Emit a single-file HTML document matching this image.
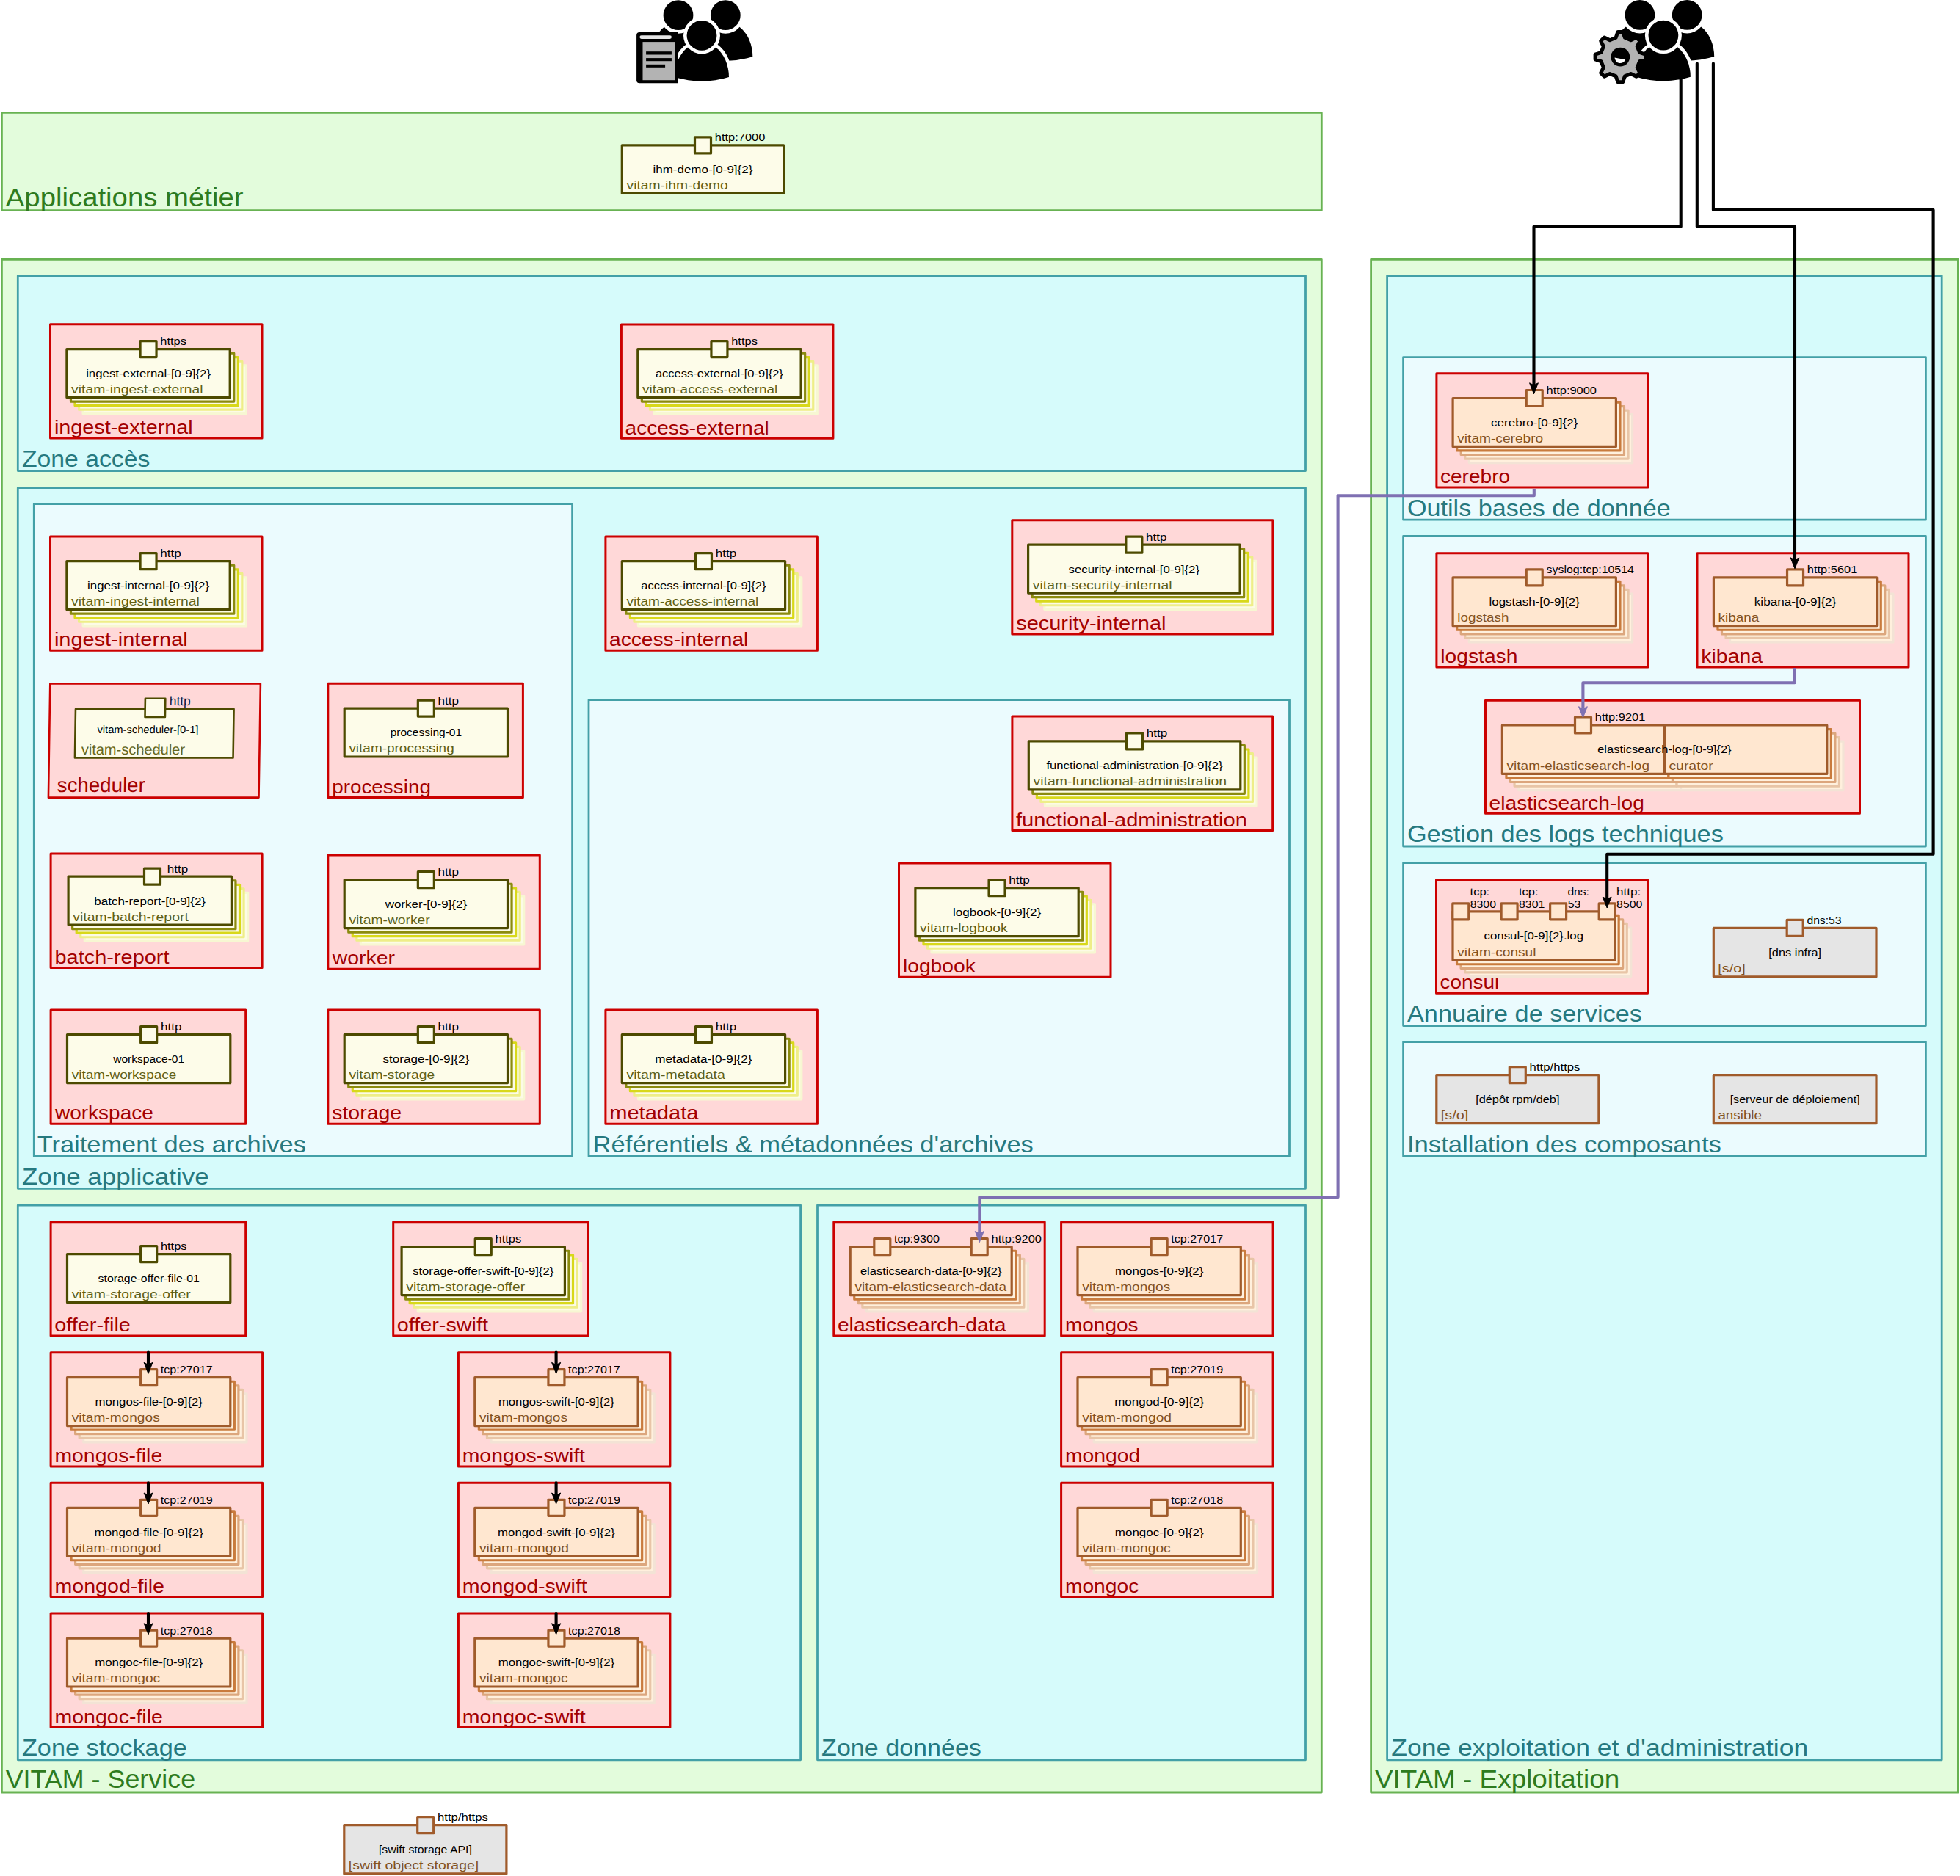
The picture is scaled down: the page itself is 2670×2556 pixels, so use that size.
<!DOCTYPE html>
<html><head><meta charset="utf-8"><title>VITAM</title><style>html,body{margin:0;padding:0;background:#fff;overflow:hidden;}svg{display:block;}text{font-family:"Liberation Sans",sans-serif;}</style></head><body>
<svg width="2670" height="2556" viewBox="0 0 2670 2556" font-family="Liberation Sans, sans-serif">
<rect x="0" y="0" width="2670" height="2556" fill="#ffffff"/>
<rect x="2.40" y="153.40" width="1797.90" height="133.20" fill="#e3fcdc" stroke="#68b252" stroke-width="2.78" stroke-linejoin="round" />
<rect x="2.40" y="353.30" width="1797.90" height="2088.70" fill="#e3fcdc" stroke="#68b252" stroke-width="2.78" stroke-linejoin="round" />
<rect x="1867.60" y="353.30" width="799.80" height="2088.70" fill="#e3fcdc" stroke="#68b252" stroke-width="2.78" stroke-linejoin="round" />
<rect x="24.30" y="375.50" width="1754.20" height="266.00" fill="#d6fbfb" stroke="#43a0a7" stroke-width="2.78" stroke-linejoin="round" />
<rect x="24.30" y="664.50" width="1754.20" height="954.80" fill="#d6fbfb" stroke="#43a0a7" stroke-width="2.78" stroke-linejoin="round" />
<rect x="46.30" y="686.50" width="733.30" height="889.00" fill="#ebfbfe" stroke="#43a0a7" stroke-width="2.78" stroke-linejoin="round" />
<rect x="802.00" y="953.60" width="954.50" height="621.90" fill="#ebfbfe" stroke="#43a0a7" stroke-width="2.78" stroke-linejoin="round" />
<rect x="24.30" y="1642.10" width="1066.30" height="755.70" fill="#d6fbfb" stroke="#43a0a7" stroke-width="2.78" stroke-linejoin="round" />
<rect x="1113.50" y="1642.10" width="665.00" height="755.70" fill="#d6fbfb" stroke="#43a0a7" stroke-width="2.78" stroke-linejoin="round" />
<rect x="1889.60" y="375.50" width="755.60" height="2022.30" fill="#d6fbfb" stroke="#43a0a7" stroke-width="2.78" stroke-linejoin="round" />
<rect x="1911.60" y="486.70" width="711.80" height="221.50" fill="#ebfbfe" stroke="#43a0a7" stroke-width="2.78" stroke-linejoin="round" />
<rect x="1911.60" y="730.50" width="711.80" height="422.50" fill="#ebfbfe" stroke="#43a0a7" stroke-width="2.78" stroke-linejoin="round" />
<rect x="1911.60" y="1175.50" width="711.80" height="222.00" fill="#ebfbfe" stroke="#43a0a7" stroke-width="2.78" stroke-linejoin="round" />
<rect x="1911.60" y="1419.50" width="711.80" height="156.00" fill="#ebfbfe" stroke="#43a0a7" stroke-width="2.78" stroke-linejoin="round" />
<text x="7.8" y="280.9" font-size="34.83" fill="#2e7b1e" text-anchor="start" textLength="323.7" lengthAdjust="spacingAndGlyphs">Applications métier</text>
<text x="7.7" y="2436.3" font-size="34.83" fill="#2e7b1e" text-anchor="start" textLength="258.4" lengthAdjust="spacingAndGlyphs">VITAM - Service</text>
<text x="1872.9" y="2436.3" font-size="34.83" fill="#2e7b1e" text-anchor="start" textLength="333.4" lengthAdjust="spacingAndGlyphs">VITAM - Exploitation</text>
<text x="29.9" y="635.8" font-size="31.92" fill="#26797f" text-anchor="start" textLength="174.5" lengthAdjust="spacingAndGlyphs">Zone accès</text>
<text x="29.9" y="1613.6" font-size="31.92" fill="#26797f" text-anchor="start" textLength="254.8" lengthAdjust="spacingAndGlyphs">Zone applicative</text>
<text x="50.7" y="1569.8" font-size="31.92" fill="#26797f" text-anchor="start" textLength="366.2" lengthAdjust="spacingAndGlyphs">Traitement des archives</text>
<text x="807.6" y="1569.8" font-size="31.92" fill="#26797f" text-anchor="start" textLength="600.3" lengthAdjust="spacingAndGlyphs">Référentiels &amp; métadonnées d&#39;archives</text>
<text x="29.9" y="2392.1" font-size="31.92" fill="#26797f" text-anchor="start" textLength="224.9" lengthAdjust="spacingAndGlyphs">Zone stockage</text>
<text x="1119.1" y="2392.1" font-size="31.92" fill="#26797f" text-anchor="start" textLength="217.8" lengthAdjust="spacingAndGlyphs">Zone données</text>
<text x="1895.2" y="2392.1" font-size="31.92" fill="#26797f" text-anchor="start" textLength="568.0" lengthAdjust="spacingAndGlyphs">Zone exploitation et d&#39;administration</text>
<text x="1917.0" y="702.5" font-size="31.92" fill="#26797f" text-anchor="start" textLength="358.7" lengthAdjust="spacingAndGlyphs">Outils bases de donnée</text>
<text x="1916.9" y="1147.3" font-size="31.92" fill="#26797f" text-anchor="start" textLength="430.9" lengthAdjust="spacingAndGlyphs">Gestion des logs techniques</text>
<text x="1917.0" y="1391.8" font-size="31.92" fill="#26797f" text-anchor="start" textLength="319.8" lengthAdjust="spacingAndGlyphs">Annuaire de services</text>
<text x="1916.9" y="1569.8" font-size="31.92" fill="#26797f" text-anchor="start" textLength="428.0" lengthAdjust="spacingAndGlyphs">Installation des composants</text>
<rect x="847.30" y="197.90" width="220.30" height="65.50" fill="#fdfce9" stroke="#4d4a00" stroke-width="3.2" stroke-linejoin="round" />
<rect x="946.50" y="186.90" width="22.00" height="22.00" fill="#fdfce9" stroke="#4d4a00" stroke-width="3.2" stroke-linejoin="round" />
<text x="973.8" y="192.3" font-size="14.52" fill="#000" text-anchor="start" textLength="68.5" lengthAdjust="spacingAndGlyphs">http:7000</text>
<text x="957.4" y="236.2" font-size="14.52" fill="#000" text-anchor="middle" textLength="135.9" lengthAdjust="spacingAndGlyphs">ihm-demo-[0-9]{2}</text>
<text x="853.5" y="257.8" font-size="17.42" fill="#5f5f16" text-anchor="start" textLength="138.2" lengthAdjust="spacingAndGlyphs">vitam-ihm-demo</text>
<rect x="68.50" y="441.80" width="288.50" height="155.30" fill="#ffd8d8" stroke="#cc0000" stroke-width="3.0" stroke-linejoin="round" />
<text x="73.9" y="591.3" font-size="26.12" fill="#a30000" text-anchor="start" textLength="188.8" lengthAdjust="spacingAndGlyphs">ingest-external</text>
<rect x="113.10" y="497.80" width="222.30" height="65.90" fill="#fcfbe6" stroke="#f7f7d2" stroke-width="3.2" stroke-linejoin="round" />
<rect x="107.55" y="492.25" width="222.30" height="65.90" fill="#fcfbe6" stroke="#eeee88" stroke-width="3.2" stroke-linejoin="round" />
<rect x="102.00" y="486.70" width="222.30" height="65.90" fill="#fcfbe6" stroke="#d8d81a" stroke-width="3.2" stroke-linejoin="round" />
<rect x="96.45" y="481.15" width="222.30" height="65.90" fill="#fcfbe6" stroke="#8b8b0e" stroke-width="3.2" stroke-linejoin="round" />
<rect x="90.90" y="475.60" width="222.30" height="65.90" fill="#fdfce9" stroke="#4d4a00" stroke-width="3.2" stroke-linejoin="round" />
<rect x="191.05" y="464.60" width="22.00" height="22.00" fill="#fdfce9" stroke="#4d4a00" stroke-width="3.2" stroke-linejoin="round" />
<text x="218.3" y="470.0" font-size="14.52" fill="#000" text-anchor="start" textLength="35.7" lengthAdjust="spacingAndGlyphs">https</text>
<text x="202.1" y="513.9" font-size="14.52" fill="#000" text-anchor="middle" textLength="169.9" lengthAdjust="spacingAndGlyphs">ingest-external-[0-9]{2}</text>
<text x="97.1" y="535.9" font-size="17.42" fill="#5f5f16" text-anchor="start" textLength="179.4" lengthAdjust="spacingAndGlyphs">vitam-ingest-external</text>
<rect x="846.40" y="442.00" width="288.50" height="155.30" fill="#ffd8d8" stroke="#cc0000" stroke-width="3.0" stroke-linejoin="round" />
<text x="851.6" y="591.5" font-size="26.12" fill="#a30000" text-anchor="start" textLength="196.1" lengthAdjust="spacingAndGlyphs">access-external</text>
<rect x="891.00" y="497.80" width="222.30" height="65.90" fill="#fcfbe6" stroke="#f7f7d2" stroke-width="3.2" stroke-linejoin="round" />
<rect x="885.45" y="492.25" width="222.30" height="65.90" fill="#fcfbe6" stroke="#eeee88" stroke-width="3.2" stroke-linejoin="round" />
<rect x="879.90" y="486.70" width="222.30" height="65.90" fill="#fcfbe6" stroke="#d8d81a" stroke-width="3.2" stroke-linejoin="round" />
<rect x="874.35" y="481.15" width="222.30" height="65.90" fill="#fcfbe6" stroke="#8b8b0e" stroke-width="3.2" stroke-linejoin="round" />
<rect x="868.80" y="475.60" width="222.30" height="65.90" fill="#fdfce9" stroke="#4d4a00" stroke-width="3.2" stroke-linejoin="round" />
<rect x="968.95" y="464.60" width="22.00" height="22.00" fill="#fdfce9" stroke="#4d4a00" stroke-width="3.2" stroke-linejoin="round" />
<text x="996.2" y="470.0" font-size="14.52" fill="#000" text-anchor="start" textLength="35.7" lengthAdjust="spacingAndGlyphs">https</text>
<text x="979.9" y="513.9" font-size="14.52" fill="#000" text-anchor="middle" textLength="174.0" lengthAdjust="spacingAndGlyphs">access-external-[0-9]{2}</text>
<text x="875.0" y="535.9" font-size="17.42" fill="#5f5f16" text-anchor="start" textLength="184.3" lengthAdjust="spacingAndGlyphs">vitam-access-external</text>
<rect x="68.50" y="730.90" width="288.50" height="155.30" fill="#ffd8d8" stroke="#cc0000" stroke-width="3.0" stroke-linejoin="round" />
<text x="73.9" y="880.4" font-size="26.12" fill="#a30000" text-anchor="start" textLength="181.8" lengthAdjust="spacingAndGlyphs">ingest-internal</text>
<rect x="113.10" y="786.90" width="222.30" height="65.90" fill="#fcfbe6" stroke="#f7f7d2" stroke-width="3.2" stroke-linejoin="round" />
<rect x="107.55" y="781.35" width="222.30" height="65.90" fill="#fcfbe6" stroke="#eeee88" stroke-width="3.2" stroke-linejoin="round" />
<rect x="102.00" y="775.80" width="222.30" height="65.90" fill="#fcfbe6" stroke="#d8d81a" stroke-width="3.2" stroke-linejoin="round" />
<rect x="96.45" y="770.25" width="222.30" height="65.90" fill="#fcfbe6" stroke="#8b8b0e" stroke-width="3.2" stroke-linejoin="round" />
<rect x="90.90" y="764.70" width="222.30" height="65.90" fill="#fdfce9" stroke="#4d4a00" stroke-width="3.2" stroke-linejoin="round" />
<rect x="191.05" y="753.70" width="22.00" height="22.00" fill="#fdfce9" stroke="#4d4a00" stroke-width="3.2" stroke-linejoin="round" />
<text x="218.3" y="759.1" font-size="14.52" fill="#000" text-anchor="start" textLength="28.5" lengthAdjust="spacingAndGlyphs">http</text>
<text x="202.1" y="803.0" font-size="14.52" fill="#000" text-anchor="middle" textLength="166.1" lengthAdjust="spacingAndGlyphs">ingest-internal-[0-9]{2}</text>
<text x="97.1" y="825.0" font-size="17.42" fill="#5f5f16" text-anchor="start" textLength="174.7" lengthAdjust="spacingAndGlyphs">vitam-ingest-internal</text>
<rect x="824.90" y="730.90" width="288.50" height="155.30" fill="#ffd8d8" stroke="#cc0000" stroke-width="3.0" stroke-linejoin="round" />
<text x="830.1" y="880.4" font-size="26.12" fill="#a30000" text-anchor="start" textLength="189.2" lengthAdjust="spacingAndGlyphs">access-internal</text>
<rect x="869.50" y="786.90" width="222.30" height="65.90" fill="#fcfbe6" stroke="#f7f7d2" stroke-width="3.2" stroke-linejoin="round" />
<rect x="863.95" y="781.35" width="222.30" height="65.90" fill="#fcfbe6" stroke="#eeee88" stroke-width="3.2" stroke-linejoin="round" />
<rect x="858.40" y="775.80" width="222.30" height="65.90" fill="#fcfbe6" stroke="#d8d81a" stroke-width="3.2" stroke-linejoin="round" />
<rect x="852.85" y="770.25" width="222.30" height="65.90" fill="#fcfbe6" stroke="#8b8b0e" stroke-width="3.2" stroke-linejoin="round" />
<rect x="847.30" y="764.70" width="222.30" height="65.90" fill="#fdfce9" stroke="#4d4a00" stroke-width="3.2" stroke-linejoin="round" />
<rect x="947.45" y="753.70" width="22.00" height="22.00" fill="#fdfce9" stroke="#4d4a00" stroke-width="3.2" stroke-linejoin="round" />
<text x="974.7" y="759.1" font-size="14.52" fill="#000" text-anchor="start" textLength="28.5" lengthAdjust="spacingAndGlyphs">http</text>
<text x="958.4" y="803.0" font-size="14.52" fill="#000" text-anchor="middle" textLength="170.2" lengthAdjust="spacingAndGlyphs">access-internal-[0-9]{2}</text>
<text x="853.5" y="825.0" font-size="17.42" fill="#5f5f16" text-anchor="start" textLength="179.7" lengthAdjust="spacingAndGlyphs">vitam-access-internal</text>
<rect x="1378.80" y="708.80" width="355.10" height="155.30" fill="#ffd8d8" stroke="#cc0000" stroke-width="3.0" stroke-linejoin="round" />
<text x="1384.2" y="858.3" font-size="26.12" fill="#a30000" text-anchor="start" textLength="204.3" lengthAdjust="spacingAndGlyphs">security-internal</text>
<rect x="1422.80" y="764.40" width="288.50" height="65.90" fill="#fcfbe6" stroke="#f7f7d2" stroke-width="3.2" stroke-linejoin="round" />
<rect x="1417.25" y="758.85" width="288.50" height="65.90" fill="#fcfbe6" stroke="#eeee88" stroke-width="3.2" stroke-linejoin="round" />
<rect x="1411.70" y="753.30" width="288.50" height="65.90" fill="#fcfbe6" stroke="#d8d81a" stroke-width="3.2" stroke-linejoin="round" />
<rect x="1406.15" y="747.75" width="288.50" height="65.90" fill="#fcfbe6" stroke="#8b8b0e" stroke-width="3.2" stroke-linejoin="round" />
<rect x="1400.60" y="742.20" width="288.50" height="65.90" fill="#fdfce9" stroke="#4d4a00" stroke-width="3.2" stroke-linejoin="round" />
<rect x="1533.85" y="731.20" width="22.00" height="22.00" fill="#fdfce9" stroke="#4d4a00" stroke-width="3.2" stroke-linejoin="round" />
<text x="1561.1" y="736.6" font-size="14.52" fill="#000" text-anchor="start" textLength="28.5" lengthAdjust="spacingAndGlyphs">http</text>
<text x="1544.8" y="780.5" font-size="14.52" fill="#000" text-anchor="middle" textLength="178.6" lengthAdjust="spacingAndGlyphs">security-internal-[0-9]{2}</text>
<text x="1406.8" y="802.5" font-size="17.42" fill="#5f5f16" text-anchor="start" textLength="189.7" lengthAdjust="spacingAndGlyphs">vitam-security-internal</text>
<rect x="446.80" y="931.30" width="265.60" height="155.30" fill="#ffd8d8" stroke="#cc0000" stroke-width="3.0" stroke-linejoin="round" />
<text x="452.2" y="1080.8" font-size="26.12" fill="#a30000" text-anchor="start" textLength="134.7" lengthAdjust="spacingAndGlyphs">processing</text>
<rect x="469.20" y="965.10" width="222.30" height="65.90" fill="#fdfce9" stroke="#4d4a00" stroke-width="3.2" stroke-linejoin="round" />
<rect x="569.35" y="954.10" width="22.00" height="22.00" fill="#fdfce9" stroke="#4d4a00" stroke-width="3.2" stroke-linejoin="round" />
<text x="596.6" y="959.5" font-size="14.52" fill="#000" text-anchor="start" textLength="28.5" lengthAdjust="spacingAndGlyphs">http</text>
<text x="580.4" y="1003.4" font-size="14.52" fill="#000" text-anchor="middle" textLength="97.5" lengthAdjust="spacingAndGlyphs">processing-01</text>
<text x="475.4" y="1025.4" font-size="17.42" fill="#5f5f16" text-anchor="start" textLength="143.3" lengthAdjust="spacingAndGlyphs">vitam-processing</text>
<rect x="69.10" y="1163.10" width="288.00" height="155.30" fill="#ffd8d8" stroke="#cc0000" stroke-width="3.0" stroke-linejoin="round" />
<text x="74.5" y="1312.6" font-size="26.12" fill="#a30000" text-anchor="start" textLength="156.0" lengthAdjust="spacingAndGlyphs">batch-report</text>
<rect x="115.30" y="1216.40" width="222.30" height="65.90" fill="#fcfbe6" stroke="#f7f7d2" stroke-width="3.2" stroke-linejoin="round" />
<rect x="109.75" y="1210.85" width="222.30" height="65.90" fill="#fcfbe6" stroke="#eeee88" stroke-width="3.2" stroke-linejoin="round" />
<rect x="104.20" y="1205.30" width="222.30" height="65.90" fill="#fcfbe6" stroke="#d8d81a" stroke-width="3.2" stroke-linejoin="round" />
<rect x="98.65" y="1199.75" width="222.30" height="65.90" fill="#fcfbe6" stroke="#8b8b0e" stroke-width="3.2" stroke-linejoin="round" />
<rect x="93.10" y="1194.20" width="222.30" height="65.90" fill="#fdfce9" stroke="#4d4a00" stroke-width="3.2" stroke-linejoin="round" />
<rect x="196.50" y="1183.20" width="22.00" height="22.00" fill="#fdfce9" stroke="#4d4a00" stroke-width="3.2" stroke-linejoin="round" />
<text x="227.8" y="1188.6" font-size="14.52" fill="#000" text-anchor="start" textLength="28.5" lengthAdjust="spacingAndGlyphs">http</text>
<text x="204.2" y="1232.5" font-size="14.52" fill="#000" text-anchor="middle" textLength="151.7" lengthAdjust="spacingAndGlyphs">batch-report-[0-9]{2}</text>
<text x="99.3" y="1254.5" font-size="17.42" fill="#5f5f16" text-anchor="start" textLength="157.5" lengthAdjust="spacingAndGlyphs">vitam-batch-report</text>
<rect x="446.80" y="1164.90" width="288.50" height="155.30" fill="#ffd8d8" stroke="#cc0000" stroke-width="3.0" stroke-linejoin="round" />
<text x="452.7" y="1314.4" font-size="26.12" fill="#a30000" text-anchor="start" textLength="85.3" lengthAdjust="spacingAndGlyphs">worker</text>
<rect x="491.40" y="1220.90" width="222.30" height="65.90" fill="#fcfbe6" stroke="#f7f7d2" stroke-width="3.2" stroke-linejoin="round" />
<rect x="485.85" y="1215.35" width="222.30" height="65.90" fill="#fcfbe6" stroke="#eeee88" stroke-width="3.2" stroke-linejoin="round" />
<rect x="480.30" y="1209.80" width="222.30" height="65.90" fill="#fcfbe6" stroke="#d8d81a" stroke-width="3.2" stroke-linejoin="round" />
<rect x="474.75" y="1204.25" width="222.30" height="65.90" fill="#fcfbe6" stroke="#8b8b0e" stroke-width="3.2" stroke-linejoin="round" />
<rect x="469.20" y="1198.70" width="222.30" height="65.90" fill="#fdfce9" stroke="#4d4a00" stroke-width="3.2" stroke-linejoin="round" />
<rect x="569.35" y="1187.70" width="22.00" height="22.00" fill="#fdfce9" stroke="#4d4a00" stroke-width="3.2" stroke-linejoin="round" />
<text x="596.6" y="1193.1" font-size="14.52" fill="#000" text-anchor="start" textLength="28.5" lengthAdjust="spacingAndGlyphs">http</text>
<text x="580.4" y="1237.0" font-size="14.52" fill="#000" text-anchor="middle" textLength="111.5" lengthAdjust="spacingAndGlyphs">worker-[0-9]{2}</text>
<text x="475.4" y="1259.0" font-size="17.42" fill="#5f5f16" text-anchor="start" textLength="110.4" lengthAdjust="spacingAndGlyphs">vitam-worker</text>
<rect x="69.10" y="1375.90" width="265.60" height="155.30" fill="#ffd8d8" stroke="#cc0000" stroke-width="3.0" stroke-linejoin="round" />
<text x="75.0" y="1525.4" font-size="26.12" fill="#a30000" text-anchor="start" textLength="133.8" lengthAdjust="spacingAndGlyphs">workspace</text>
<rect x="91.50" y="1409.70" width="222.30" height="65.90" fill="#fdfce9" stroke="#4d4a00" stroke-width="3.2" stroke-linejoin="round" />
<rect x="191.65" y="1398.70" width="22.00" height="22.00" fill="#fdfce9" stroke="#4d4a00" stroke-width="3.2" stroke-linejoin="round" />
<text x="218.9" y="1404.1" font-size="14.52" fill="#000" text-anchor="start" textLength="28.5" lengthAdjust="spacingAndGlyphs">http</text>
<text x="202.7" y="1448.0" font-size="14.52" fill="#000" text-anchor="middle" textLength="97.0" lengthAdjust="spacingAndGlyphs">workspace-01</text>
<text x="97.7" y="1470.0" font-size="17.42" fill="#5f5f16" text-anchor="start" textLength="142.7" lengthAdjust="spacingAndGlyphs">vitam-workspace</text>
<rect x="446.80" y="1375.90" width="288.50" height="155.30" fill="#ffd8d8" stroke="#cc0000" stroke-width="3.0" stroke-linejoin="round" />
<text x="452.2" y="1525.4" font-size="26.12" fill="#a30000" text-anchor="start" textLength="95.0" lengthAdjust="spacingAndGlyphs">storage</text>
<rect x="491.40" y="1431.90" width="222.30" height="65.90" fill="#fcfbe6" stroke="#f7f7d2" stroke-width="3.2" stroke-linejoin="round" />
<rect x="485.85" y="1426.35" width="222.30" height="65.90" fill="#fcfbe6" stroke="#eeee88" stroke-width="3.2" stroke-linejoin="round" />
<rect x="480.30" y="1420.80" width="222.30" height="65.90" fill="#fcfbe6" stroke="#d8d81a" stroke-width="3.2" stroke-linejoin="round" />
<rect x="474.75" y="1415.25" width="222.30" height="65.90" fill="#fcfbe6" stroke="#8b8b0e" stroke-width="3.2" stroke-linejoin="round" />
<rect x="469.20" y="1409.70" width="222.30" height="65.90" fill="#fdfce9" stroke="#4d4a00" stroke-width="3.2" stroke-linejoin="round" />
<rect x="569.35" y="1398.70" width="22.00" height="22.00" fill="#fdfce9" stroke="#4d4a00" stroke-width="3.2" stroke-linejoin="round" />
<text x="596.6" y="1404.1" font-size="14.52" fill="#000" text-anchor="start" textLength="28.5" lengthAdjust="spacingAndGlyphs">http</text>
<text x="580.4" y="1448.0" font-size="14.52" fill="#000" text-anchor="middle" textLength="117.8" lengthAdjust="spacingAndGlyphs">storage-[0-9]{2}</text>
<text x="475.4" y="1470.0" font-size="17.42" fill="#5f5f16" text-anchor="start" textLength="116.8" lengthAdjust="spacingAndGlyphs">vitam-storage</text>
<rect x="1378.90" y="976.10" width="354.80" height="155.30" fill="#ffd8d8" stroke="#cc0000" stroke-width="3.0" stroke-linejoin="round" />
<text x="1383.9" y="1125.6" font-size="26.12" fill="#a30000" text-anchor="start" textLength="315.0" lengthAdjust="spacingAndGlyphs">functional-administration</text>
<rect x="1423.50" y="1032.10" width="288.50" height="65.90" fill="#fcfbe6" stroke="#f7f7d2" stroke-width="3.2" stroke-linejoin="round" />
<rect x="1417.95" y="1026.55" width="288.50" height="65.90" fill="#fcfbe6" stroke="#eeee88" stroke-width="3.2" stroke-linejoin="round" />
<rect x="1412.40" y="1021.00" width="288.50" height="65.90" fill="#fcfbe6" stroke="#d8d81a" stroke-width="3.2" stroke-linejoin="round" />
<rect x="1406.85" y="1015.45" width="288.50" height="65.90" fill="#fcfbe6" stroke="#8b8b0e" stroke-width="3.2" stroke-linejoin="round" />
<rect x="1401.30" y="1009.90" width="288.50" height="65.90" fill="#fdfce9" stroke="#4d4a00" stroke-width="3.2" stroke-linejoin="round" />
<rect x="1534.55" y="998.90" width="22.00" height="22.00" fill="#fdfce9" stroke="#4d4a00" stroke-width="3.2" stroke-linejoin="round" />
<text x="1561.8" y="1004.3" font-size="14.52" fill="#000" text-anchor="start" textLength="28.5" lengthAdjust="spacingAndGlyphs">http</text>
<text x="1545.5" y="1048.2" font-size="14.52" fill="#000" text-anchor="middle" textLength="240.1" lengthAdjust="spacingAndGlyphs">functional-administration-[0-9]{2}</text>
<text x="1407.5" y="1070.2" font-size="17.42" fill="#5f5f16" text-anchor="start" textLength="263.5" lengthAdjust="spacingAndGlyphs">vitam-functional-administration</text>
<rect x="1224.50" y="1175.90" width="288.50" height="155.30" fill="#ffd8d8" stroke="#cc0000" stroke-width="3.0" stroke-linejoin="round" />
<text x="1229.9" y="1325.4" font-size="26.12" fill="#a30000" text-anchor="start" textLength="99.0" lengthAdjust="spacingAndGlyphs">logbook</text>
<rect x="1269.10" y="1231.90" width="222.30" height="65.90" fill="#fcfbe6" stroke="#f7f7d2" stroke-width="3.2" stroke-linejoin="round" />
<rect x="1263.55" y="1226.35" width="222.30" height="65.90" fill="#fcfbe6" stroke="#eeee88" stroke-width="3.2" stroke-linejoin="round" />
<rect x="1258.00" y="1220.80" width="222.30" height="65.90" fill="#fcfbe6" stroke="#d8d81a" stroke-width="3.2" stroke-linejoin="round" />
<rect x="1252.45" y="1215.25" width="222.30" height="65.90" fill="#fcfbe6" stroke="#8b8b0e" stroke-width="3.2" stroke-linejoin="round" />
<rect x="1246.90" y="1209.70" width="222.30" height="65.90" fill="#fdfce9" stroke="#4d4a00" stroke-width="3.2" stroke-linejoin="round" />
<rect x="1347.05" y="1198.70" width="22.00" height="22.00" fill="#fdfce9" stroke="#4d4a00" stroke-width="3.2" stroke-linejoin="round" />
<text x="1374.3" y="1204.1" font-size="14.52" fill="#000" text-anchor="start" textLength="28.5" lengthAdjust="spacingAndGlyphs">http</text>
<text x="1358.1" y="1248.0" font-size="14.52" fill="#000" text-anchor="middle" textLength="120.1" lengthAdjust="spacingAndGlyphs">logbook-[0-9]{2}</text>
<text x="1253.1" y="1270.0" font-size="17.42" fill="#5f5f16" text-anchor="start" textLength="119.5" lengthAdjust="spacingAndGlyphs">vitam-logbook</text>
<rect x="824.90" y="1375.90" width="288.50" height="155.30" fill="#ffd8d8" stroke="#cc0000" stroke-width="3.0" stroke-linejoin="round" />
<text x="830.2" y="1525.4" font-size="26.12" fill="#a30000" text-anchor="start" textLength="121.2" lengthAdjust="spacingAndGlyphs">metadata</text>
<rect x="869.50" y="1431.90" width="222.30" height="65.90" fill="#fcfbe6" stroke="#f7f7d2" stroke-width="3.2" stroke-linejoin="round" />
<rect x="863.95" y="1426.35" width="222.30" height="65.90" fill="#fcfbe6" stroke="#eeee88" stroke-width="3.2" stroke-linejoin="round" />
<rect x="858.40" y="1420.80" width="222.30" height="65.90" fill="#fcfbe6" stroke="#d8d81a" stroke-width="3.2" stroke-linejoin="round" />
<rect x="852.85" y="1415.25" width="222.30" height="65.90" fill="#fcfbe6" stroke="#8b8b0e" stroke-width="3.2" stroke-linejoin="round" />
<rect x="847.30" y="1409.70" width="222.30" height="65.90" fill="#fdfce9" stroke="#4d4a00" stroke-width="3.2" stroke-linejoin="round" />
<rect x="947.45" y="1398.70" width="22.00" height="22.00" fill="#fdfce9" stroke="#4d4a00" stroke-width="3.2" stroke-linejoin="round" />
<text x="974.7" y="1404.1" font-size="14.52" fill="#000" text-anchor="start" textLength="28.5" lengthAdjust="spacingAndGlyphs">http</text>
<text x="958.4" y="1448.0" font-size="14.52" fill="#000" text-anchor="middle" textLength="132.4" lengthAdjust="spacingAndGlyphs">metadata-[0-9]{2}</text>
<text x="853.5" y="1470.0" font-size="17.42" fill="#5f5f16" text-anchor="start" textLength="134.3" lengthAdjust="spacingAndGlyphs">vitam-metadata</text>
<rect x="69.10" y="1664.70" width="265.60" height="155.30" fill="#ffd8d8" stroke="#cc0000" stroke-width="3.0" stroke-linejoin="round" />
<text x="74.2" y="1814.2" font-size="26.12" fill="#a30000" text-anchor="start" textLength="103.7" lengthAdjust="spacingAndGlyphs">offer-file</text>
<rect x="91.50" y="1708.70" width="222.30" height="65.90" fill="#fdfce9" stroke="#4d4a00" stroke-width="3.2" stroke-linejoin="round" />
<rect x="191.65" y="1697.70" width="22.00" height="22.00" fill="#fdfce9" stroke="#4d4a00" stroke-width="3.2" stroke-linejoin="round" />
<text x="218.9" y="1703.1" font-size="14.52" fill="#000" text-anchor="start" textLength="35.7" lengthAdjust="spacingAndGlyphs">https</text>
<text x="202.7" y="1747.0" font-size="14.52" fill="#000" text-anchor="middle" textLength="138.3" lengthAdjust="spacingAndGlyphs">storage-offer-file-01</text>
<text x="97.7" y="1769.0" font-size="17.42" fill="#5f5f16" text-anchor="start" textLength="161.9" lengthAdjust="spacingAndGlyphs">vitam-storage-offer</text>
<rect x="535.70" y="1664.70" width="265.60" height="155.30" fill="#ffd8d8" stroke="#cc0000" stroke-width="3.0" stroke-linejoin="round" />
<text x="540.8" y="1814.2" font-size="26.12" fill="#a30000" text-anchor="start" textLength="124.2" lengthAdjust="spacingAndGlyphs">offer-swift</text>
<rect x="569.30" y="1720.90" width="222.30" height="65.90" fill="#fcfbe6" stroke="#f7f7d2" stroke-width="3.2" stroke-linejoin="round" />
<rect x="563.75" y="1715.35" width="222.30" height="65.90" fill="#fcfbe6" stroke="#eeee88" stroke-width="3.2" stroke-linejoin="round" />
<rect x="558.20" y="1709.80" width="222.30" height="65.90" fill="#fcfbe6" stroke="#d8d81a" stroke-width="3.2" stroke-linejoin="round" />
<rect x="552.65" y="1704.25" width="222.30" height="65.90" fill="#fcfbe6" stroke="#8b8b0e" stroke-width="3.2" stroke-linejoin="round" />
<rect x="547.10" y="1698.70" width="222.30" height="65.90" fill="#fdfce9" stroke="#4d4a00" stroke-width="3.2" stroke-linejoin="round" />
<rect x="647.25" y="1687.70" width="22.00" height="22.00" fill="#fdfce9" stroke="#4d4a00" stroke-width="3.2" stroke-linejoin="round" />
<text x="674.5" y="1693.1" font-size="14.52" fill="#000" text-anchor="start" textLength="35.7" lengthAdjust="spacingAndGlyphs">https</text>
<text x="658.2" y="1737.0" font-size="14.52" fill="#000" text-anchor="middle" textLength="192.1" lengthAdjust="spacingAndGlyphs">storage-offer-swift-[0-9]{2}</text>
<text x="553.3" y="1759.0" font-size="17.42" fill="#5f5f16" text-anchor="start" textLength="161.9" lengthAdjust="spacingAndGlyphs">vitam-storage-offer</text>
<rect x="69.10" y="1842.70" width="288.50" height="155.30" fill="#ffd8d8" stroke="#cc0000" stroke-width="3.0" stroke-linejoin="round" />
<text x="74.4" y="1992.2" font-size="26.12" fill="#a30000" text-anchor="start" textLength="146.8" lengthAdjust="spacingAndGlyphs">mongos-file</text>
<rect x="113.70" y="1898.90" width="222.30" height="65.90" fill="#fff0dd" stroke="#f3e3d5" stroke-width="3.2" stroke-linejoin="round" />
<rect x="108.15" y="1893.35" width="222.30" height="65.90" fill="#fff0dd" stroke="#e8c5a7" stroke-width="3.2" stroke-linejoin="round" />
<rect x="102.60" y="1887.80" width="222.30" height="65.90" fill="#fff0dd" stroke="#dca67d" stroke-width="3.2" stroke-linejoin="round" />
<rect x="97.05" y="1882.25" width="222.30" height="65.90" fill="#fff0dd" stroke="#c97b3d" stroke-width="3.2" stroke-linejoin="round" />
<rect x="91.50" y="1876.70" width="222.30" height="65.90" fill="#ffe7d0" stroke="#a05b2b" stroke-width="3.2" stroke-linejoin="round" />
<rect x="191.65" y="1865.70" width="22.00" height="22.00" fill="#ffe7d0" stroke="#a05b2b" stroke-width="3.2" stroke-linejoin="round" />
<text x="218.8" y="1871.1" font-size="14.52" fill="#000" text-anchor="start" textLength="70.8" lengthAdjust="spacingAndGlyphs">tcp:27017</text>
<text x="202.7" y="1915.0" font-size="14.52" fill="#000" text-anchor="middle" textLength="146.6" lengthAdjust="spacingAndGlyphs">mongos-file-[0-9]{2}</text>
<text x="97.7" y="1937.0" font-size="17.42" fill="#83521f" text-anchor="start" textLength="120.0" lengthAdjust="spacingAndGlyphs">vitam-mongos</text>
<rect x="624.40" y="1842.70" width="288.50" height="155.30" fill="#ffd8d8" stroke="#cc0000" stroke-width="3.0" stroke-linejoin="round" />
<text x="629.7" y="1992.2" font-size="26.12" fill="#a30000" text-anchor="start" textLength="167.3" lengthAdjust="spacingAndGlyphs">mongos-swift</text>
<rect x="669.00" y="1898.90" width="222.30" height="65.90" fill="#fff0dd" stroke="#f3e3d5" stroke-width="3.2" stroke-linejoin="round" />
<rect x="663.45" y="1893.35" width="222.30" height="65.90" fill="#fff0dd" stroke="#e8c5a7" stroke-width="3.2" stroke-linejoin="round" />
<rect x="657.90" y="1887.80" width="222.30" height="65.90" fill="#fff0dd" stroke="#dca67d" stroke-width="3.2" stroke-linejoin="round" />
<rect x="652.35" y="1882.25" width="222.30" height="65.90" fill="#fff0dd" stroke="#c97b3d" stroke-width="3.2" stroke-linejoin="round" />
<rect x="646.80" y="1876.70" width="222.30" height="65.90" fill="#ffe7d0" stroke="#a05b2b" stroke-width="3.2" stroke-linejoin="round" />
<rect x="746.95" y="1865.70" width="22.00" height="22.00" fill="#ffe7d0" stroke="#a05b2b" stroke-width="3.2" stroke-linejoin="round" />
<text x="774.1" y="1871.1" font-size="14.52" fill="#000" text-anchor="start" textLength="70.8" lengthAdjust="spacingAndGlyphs">tcp:27017</text>
<text x="757.9" y="1915.0" font-size="14.52" fill="#000" text-anchor="middle" textLength="158.0" lengthAdjust="spacingAndGlyphs">mongos-swift-[0-9]{2}</text>
<text x="653.0" y="1937.0" font-size="17.42" fill="#83521f" text-anchor="start" textLength="120.0" lengthAdjust="spacingAndGlyphs">vitam-mongos</text>
<rect x="69.10" y="2020.30" width="288.50" height="155.30" fill="#ffd8d8" stroke="#cc0000" stroke-width="3.0" stroke-linejoin="round" />
<text x="74.4" y="2169.8" font-size="26.12" fill="#a30000" text-anchor="start" textLength="149.6" lengthAdjust="spacingAndGlyphs">mongod-file</text>
<rect x="113.70" y="2076.50" width="222.30" height="65.90" fill="#fff0dd" stroke="#f3e3d5" stroke-width="3.2" stroke-linejoin="round" />
<rect x="108.15" y="2070.95" width="222.30" height="65.90" fill="#fff0dd" stroke="#e8c5a7" stroke-width="3.2" stroke-linejoin="round" />
<rect x="102.60" y="2065.40" width="222.30" height="65.90" fill="#fff0dd" stroke="#dca67d" stroke-width="3.2" stroke-linejoin="round" />
<rect x="97.05" y="2059.85" width="222.30" height="65.90" fill="#fff0dd" stroke="#c97b3d" stroke-width="3.2" stroke-linejoin="round" />
<rect x="91.50" y="2054.30" width="222.30" height="65.90" fill="#ffe7d0" stroke="#a05b2b" stroke-width="3.2" stroke-linejoin="round" />
<rect x="191.65" y="2043.30" width="22.00" height="22.00" fill="#ffe7d0" stroke="#a05b2b" stroke-width="3.2" stroke-linejoin="round" />
<text x="218.8" y="2048.7" font-size="14.52" fill="#000" text-anchor="start" textLength="70.8" lengthAdjust="spacingAndGlyphs">tcp:27019</text>
<text x="202.7" y="2092.6" font-size="14.52" fill="#000" text-anchor="middle" textLength="148.2" lengthAdjust="spacingAndGlyphs">mongod-file-[0-9]{2}</text>
<text x="97.7" y="2114.6" font-size="17.42" fill="#83521f" text-anchor="start" textLength="121.9" lengthAdjust="spacingAndGlyphs">vitam-mongod</text>
<rect x="624.40" y="2020.30" width="288.50" height="155.30" fill="#ffd8d8" stroke="#cc0000" stroke-width="3.0" stroke-linejoin="round" />
<text x="629.7" y="2169.8" font-size="26.12" fill="#a30000" text-anchor="start" textLength="170.1" lengthAdjust="spacingAndGlyphs">mongod-swift</text>
<rect x="669.00" y="2076.50" width="222.30" height="65.90" fill="#fff0dd" stroke="#f3e3d5" stroke-width="3.2" stroke-linejoin="round" />
<rect x="663.45" y="2070.95" width="222.30" height="65.90" fill="#fff0dd" stroke="#e8c5a7" stroke-width="3.2" stroke-linejoin="round" />
<rect x="657.90" y="2065.40" width="222.30" height="65.90" fill="#fff0dd" stroke="#dca67d" stroke-width="3.2" stroke-linejoin="round" />
<rect x="652.35" y="2059.85" width="222.30" height="65.90" fill="#fff0dd" stroke="#c97b3d" stroke-width="3.2" stroke-linejoin="round" />
<rect x="646.80" y="2054.30" width="222.30" height="65.90" fill="#ffe7d0" stroke="#a05b2b" stroke-width="3.2" stroke-linejoin="round" />
<rect x="746.95" y="2043.30" width="22.00" height="22.00" fill="#ffe7d0" stroke="#a05b2b" stroke-width="3.2" stroke-linejoin="round" />
<text x="774.1" y="2048.7" font-size="14.52" fill="#000" text-anchor="start" textLength="70.8" lengthAdjust="spacingAndGlyphs">tcp:27019</text>
<text x="757.9" y="2092.6" font-size="14.52" fill="#000" text-anchor="middle" textLength="159.6" lengthAdjust="spacingAndGlyphs">mongod-swift-[0-9]{2}</text>
<text x="653.0" y="2114.6" font-size="17.42" fill="#83521f" text-anchor="start" textLength="121.9" lengthAdjust="spacingAndGlyphs">vitam-mongod</text>
<rect x="69.10" y="2198.10" width="288.50" height="155.30" fill="#ffd8d8" stroke="#cc0000" stroke-width="3.0" stroke-linejoin="round" />
<text x="74.4" y="2347.6" font-size="26.12" fill="#a30000" text-anchor="start" textLength="147.5" lengthAdjust="spacingAndGlyphs">mongoc-file</text>
<rect x="113.70" y="2254.30" width="222.30" height="65.90" fill="#fff0dd" stroke="#f3e3d5" stroke-width="3.2" stroke-linejoin="round" />
<rect x="108.15" y="2248.75" width="222.30" height="65.90" fill="#fff0dd" stroke="#e8c5a7" stroke-width="3.2" stroke-linejoin="round" />
<rect x="102.60" y="2243.20" width="222.30" height="65.90" fill="#fff0dd" stroke="#dca67d" stroke-width="3.2" stroke-linejoin="round" />
<rect x="97.05" y="2237.65" width="222.30" height="65.90" fill="#fff0dd" stroke="#c97b3d" stroke-width="3.2" stroke-linejoin="round" />
<rect x="91.50" y="2232.10" width="222.30" height="65.90" fill="#ffe7d0" stroke="#a05b2b" stroke-width="3.2" stroke-linejoin="round" />
<rect x="191.65" y="2221.10" width="22.00" height="22.00" fill="#ffe7d0" stroke="#a05b2b" stroke-width="3.2" stroke-linejoin="round" />
<text x="218.8" y="2226.5" font-size="14.52" fill="#000" text-anchor="start" textLength="70.8" lengthAdjust="spacingAndGlyphs">tcp:27018</text>
<text x="202.7" y="2270.4" font-size="14.52" fill="#000" text-anchor="middle" textLength="147.0" lengthAdjust="spacingAndGlyphs">mongoc-file-[0-9]{2}</text>
<text x="97.7" y="2292.4" font-size="17.42" fill="#83521f" text-anchor="start" textLength="120.5" lengthAdjust="spacingAndGlyphs">vitam-mongoc</text>
<rect x="624.40" y="2198.10" width="288.50" height="155.30" fill="#ffd8d8" stroke="#cc0000" stroke-width="3.0" stroke-linejoin="round" />
<text x="629.7" y="2347.6" font-size="26.12" fill="#a30000" text-anchor="start" textLength="168.0" lengthAdjust="spacingAndGlyphs">mongoc-swift</text>
<rect x="669.00" y="2254.30" width="222.30" height="65.90" fill="#fff0dd" stroke="#f3e3d5" stroke-width="3.2" stroke-linejoin="round" />
<rect x="663.45" y="2248.75" width="222.30" height="65.90" fill="#fff0dd" stroke="#e8c5a7" stroke-width="3.2" stroke-linejoin="round" />
<rect x="657.90" y="2243.20" width="222.30" height="65.90" fill="#fff0dd" stroke="#dca67d" stroke-width="3.2" stroke-linejoin="round" />
<rect x="652.35" y="2237.65" width="222.30" height="65.90" fill="#fff0dd" stroke="#c97b3d" stroke-width="3.2" stroke-linejoin="round" />
<rect x="646.80" y="2232.10" width="222.30" height="65.90" fill="#ffe7d0" stroke="#a05b2b" stroke-width="3.2" stroke-linejoin="round" />
<rect x="746.95" y="2221.10" width="22.00" height="22.00" fill="#ffe7d0" stroke="#a05b2b" stroke-width="3.2" stroke-linejoin="round" />
<text x="774.1" y="2226.5" font-size="14.52" fill="#000" text-anchor="start" textLength="70.8" lengthAdjust="spacingAndGlyphs">tcp:27018</text>
<text x="757.9" y="2270.4" font-size="14.52" fill="#000" text-anchor="middle" textLength="158.4" lengthAdjust="spacingAndGlyphs">mongoc-swift-[0-9]{2}</text>
<text x="653.0" y="2292.4" font-size="17.42" fill="#83521f" text-anchor="start" textLength="120.5" lengthAdjust="spacingAndGlyphs">vitam-mongoc</text>
<rect x="1135.80" y="1664.70" width="287.40" height="155.30" fill="#ffd8d8" stroke="#cc0000" stroke-width="3.0" stroke-linejoin="round" />
<text x="1140.9" y="1814.2" font-size="26.12" fill="#a30000" text-anchor="start" textLength="229.5" lengthAdjust="spacingAndGlyphs">elasticsearch-data</text>
<rect x="1180.40" y="1720.90" width="220.00" height="65.90" fill="#fff0dd" stroke="#f3e3d5" stroke-width="3.2" stroke-linejoin="round" />
<rect x="1174.85" y="1715.35" width="220.00" height="65.90" fill="#fff0dd" stroke="#e8c5a7" stroke-width="3.2" stroke-linejoin="round" />
<rect x="1169.30" y="1709.80" width="220.00" height="65.90" fill="#fff0dd" stroke="#dca67d" stroke-width="3.2" stroke-linejoin="round" />
<rect x="1163.75" y="1704.25" width="220.00" height="65.90" fill="#fff0dd" stroke="#c97b3d" stroke-width="3.2" stroke-linejoin="round" />
<rect x="1158.20" y="1698.70" width="220.00" height="65.90" fill="#ffe7d0" stroke="#a05b2b" stroke-width="3.2" stroke-linejoin="round" />
<rect x="1190.80" y="1687.70" width="22.00" height="22.00" fill="#ffe7d0" stroke="#a05b2b" stroke-width="3.2" stroke-linejoin="round" />
<text x="1218.0" y="1693.1" font-size="14.52" fill="#000" text-anchor="start" textLength="61.9" lengthAdjust="spacingAndGlyphs">tcp:9300</text>
<rect x="1323.20" y="1687.70" width="22.00" height="22.00" fill="#ffe7d0" stroke="#a05b2b" stroke-width="3.2" stroke-linejoin="round" />
<text x="1350.5" y="1693.1" font-size="14.52" fill="#000" text-anchor="start" textLength="68.5" lengthAdjust="spacingAndGlyphs">http:9200</text>
<text x="1268.2" y="1737.0" font-size="14.52" fill="#000" text-anchor="middle" textLength="192.6" lengthAdjust="spacingAndGlyphs">elasticsearch-data-[0-9]{2}</text>
<text x="1164.4" y="1759.0" font-size="17.42" fill="#83521f" text-anchor="start" textLength="206.6" lengthAdjust="spacingAndGlyphs">vitam-elasticsearch-data</text>
<rect x="1445.60" y="1664.70" width="288.50" height="155.30" fill="#ffd8d8" stroke="#cc0000" stroke-width="3.0" stroke-linejoin="round" />
<text x="1450.9" y="1814.2" font-size="26.12" fill="#a30000" text-anchor="start" textLength="99.7" lengthAdjust="spacingAndGlyphs">mongos</text>
<rect x="1490.20" y="1720.90" width="222.30" height="65.90" fill="#fff0dd" stroke="#f3e3d5" stroke-width="3.2" stroke-linejoin="round" />
<rect x="1484.65" y="1715.35" width="222.30" height="65.90" fill="#fff0dd" stroke="#e8c5a7" stroke-width="3.2" stroke-linejoin="round" />
<rect x="1479.10" y="1709.80" width="222.30" height="65.90" fill="#fff0dd" stroke="#dca67d" stroke-width="3.2" stroke-linejoin="round" />
<rect x="1473.55" y="1704.25" width="222.30" height="65.90" fill="#fff0dd" stroke="#c97b3d" stroke-width="3.2" stroke-linejoin="round" />
<rect x="1468.00" y="1698.70" width="222.30" height="65.90" fill="#ffe7d0" stroke="#a05b2b" stroke-width="3.2" stroke-linejoin="round" />
<rect x="1568.15" y="1687.70" width="22.00" height="22.00" fill="#ffe7d0" stroke="#a05b2b" stroke-width="3.2" stroke-linejoin="round" />
<text x="1595.3" y="1693.1" font-size="14.52" fill="#000" text-anchor="start" textLength="70.8" lengthAdjust="spacingAndGlyphs">tcp:27017</text>
<text x="1579.2" y="1737.0" font-size="14.52" fill="#000" text-anchor="middle" textLength="120.4" lengthAdjust="spacingAndGlyphs">mongos-[0-9]{2}</text>
<text x="1474.2" y="1759.0" font-size="17.42" fill="#83521f" text-anchor="start" textLength="120.0" lengthAdjust="spacingAndGlyphs">vitam-mongos</text>
<rect x="1445.60" y="1842.70" width="288.50" height="155.30" fill="#ffd8d8" stroke="#cc0000" stroke-width="3.0" stroke-linejoin="round" />
<text x="1450.9" y="1992.2" font-size="26.12" fill="#a30000" text-anchor="start" textLength="102.5" lengthAdjust="spacingAndGlyphs">mongod</text>
<rect x="1490.20" y="1898.90" width="222.30" height="65.90" fill="#fff0dd" stroke="#f3e3d5" stroke-width="3.2" stroke-linejoin="round" />
<rect x="1484.65" y="1893.35" width="222.30" height="65.90" fill="#fff0dd" stroke="#e8c5a7" stroke-width="3.2" stroke-linejoin="round" />
<rect x="1479.10" y="1887.80" width="222.30" height="65.90" fill="#fff0dd" stroke="#dca67d" stroke-width="3.2" stroke-linejoin="round" />
<rect x="1473.55" y="1882.25" width="222.30" height="65.90" fill="#fff0dd" stroke="#c97b3d" stroke-width="3.2" stroke-linejoin="round" />
<rect x="1468.00" y="1876.70" width="222.30" height="65.90" fill="#ffe7d0" stroke="#a05b2b" stroke-width="3.2" stroke-linejoin="round" />
<rect x="1568.15" y="1865.70" width="22.00" height="22.00" fill="#ffe7d0" stroke="#a05b2b" stroke-width="3.2" stroke-linejoin="round" />
<text x="1595.3" y="1871.1" font-size="14.52" fill="#000" text-anchor="start" textLength="70.8" lengthAdjust="spacingAndGlyphs">tcp:27019</text>
<text x="1579.2" y="1915.0" font-size="14.52" fill="#000" text-anchor="middle" textLength="122.0" lengthAdjust="spacingAndGlyphs">mongod-[0-9]{2}</text>
<text x="1474.2" y="1937.0" font-size="17.42" fill="#83521f" text-anchor="start" textLength="121.9" lengthAdjust="spacingAndGlyphs">vitam-mongod</text>
<rect x="1445.60" y="2020.30" width="288.50" height="155.30" fill="#ffd8d8" stroke="#cc0000" stroke-width="3.0" stroke-linejoin="round" />
<text x="1450.9" y="2169.8" font-size="26.12" fill="#a30000" text-anchor="start" textLength="100.4" lengthAdjust="spacingAndGlyphs">mongoc</text>
<rect x="1490.20" y="2076.50" width="222.30" height="65.90" fill="#fff0dd" stroke="#f3e3d5" stroke-width="3.2" stroke-linejoin="round" />
<rect x="1484.65" y="2070.95" width="222.30" height="65.90" fill="#fff0dd" stroke="#e8c5a7" stroke-width="3.2" stroke-linejoin="round" />
<rect x="1479.10" y="2065.40" width="222.30" height="65.90" fill="#fff0dd" stroke="#dca67d" stroke-width="3.2" stroke-linejoin="round" />
<rect x="1473.55" y="2059.85" width="222.30" height="65.90" fill="#fff0dd" stroke="#c97b3d" stroke-width="3.2" stroke-linejoin="round" />
<rect x="1468.00" y="2054.30" width="222.30" height="65.90" fill="#ffe7d0" stroke="#a05b2b" stroke-width="3.2" stroke-linejoin="round" />
<rect x="1568.15" y="2043.30" width="22.00" height="22.00" fill="#ffe7d0" stroke="#a05b2b" stroke-width="3.2" stroke-linejoin="round" />
<text x="1595.3" y="2048.7" font-size="14.52" fill="#000" text-anchor="start" textLength="70.8" lengthAdjust="spacingAndGlyphs">tcp:27018</text>
<text x="1579.2" y="2092.6" font-size="14.52" fill="#000" text-anchor="middle" textLength="120.8" lengthAdjust="spacingAndGlyphs">mongoc-[0-9]{2}</text>
<text x="1474.2" y="2114.6" font-size="17.42" fill="#83521f" text-anchor="start" textLength="120.5" lengthAdjust="spacingAndGlyphs">vitam-mongoc</text>
<rect x="1956.90" y="508.70" width="288.00" height="155.30" fill="#ffd8d8" stroke="#cc0000" stroke-width="3.0" stroke-linejoin="round" />
<text x="1962.0" y="658.2" font-size="26.12" fill="#a30000" text-anchor="start" textLength="95.1" lengthAdjust="spacingAndGlyphs">cerebro</text>
<rect x="2001.30" y="564.70" width="222.30" height="65.90" fill="#fff0dd" stroke="#f3e3d5" stroke-width="3.2" stroke-linejoin="round" />
<rect x="1995.75" y="559.15" width="222.30" height="65.90" fill="#fff0dd" stroke="#e8c5a7" stroke-width="3.2" stroke-linejoin="round" />
<rect x="1990.20" y="553.60" width="222.30" height="65.90" fill="#fff0dd" stroke="#dca67d" stroke-width="3.2" stroke-linejoin="round" />
<rect x="1984.65" y="548.05" width="222.30" height="65.90" fill="#fff0dd" stroke="#c97b3d" stroke-width="3.2" stroke-linejoin="round" />
<rect x="1979.10" y="542.50" width="222.30" height="65.90" fill="#ffe7d0" stroke="#a05b2b" stroke-width="3.2" stroke-linejoin="round" />
<rect x="2079.25" y="531.50" width="22.00" height="22.00" fill="#ffe7d0" stroke="#a05b2b" stroke-width="3.2" stroke-linejoin="round" />
<text x="2106.5" y="536.9" font-size="14.52" fill="#000" text-anchor="start" textLength="68.5" lengthAdjust="spacingAndGlyphs">http:9000</text>
<text x="2090.2" y="580.8" font-size="14.52" fill="#000" text-anchor="middle" textLength="118.2" lengthAdjust="spacingAndGlyphs">cerebro-[0-9]{2}</text>
<text x="1985.3" y="602.8" font-size="17.42" fill="#83521f" text-anchor="start" textLength="116.9" lengthAdjust="spacingAndGlyphs">vitam-cerebro</text>
<rect x="1956.90" y="753.70" width="288.00" height="155.30" fill="#ffd8d8" stroke="#cc0000" stroke-width="3.0" stroke-linejoin="round" />
<text x="1962.3" y="903.2" font-size="26.12" fill="#a30000" text-anchor="start" textLength="105.1" lengthAdjust="spacingAndGlyphs">logstash</text>
<rect x="2001.30" y="809.00" width="222.30" height="65.90" fill="#fff0dd" stroke="#f3e3d5" stroke-width="3.2" stroke-linejoin="round" />
<rect x="1995.75" y="803.45" width="222.30" height="65.90" fill="#fff0dd" stroke="#e8c5a7" stroke-width="3.2" stroke-linejoin="round" />
<rect x="1990.20" y="797.90" width="222.30" height="65.90" fill="#fff0dd" stroke="#dca67d" stroke-width="3.2" stroke-linejoin="round" />
<rect x="1984.65" y="792.35" width="222.30" height="65.90" fill="#fff0dd" stroke="#c97b3d" stroke-width="3.2" stroke-linejoin="round" />
<rect x="1979.10" y="786.80" width="222.30" height="65.90" fill="#ffe7d0" stroke="#a05b2b" stroke-width="3.2" stroke-linejoin="round" />
<rect x="2079.25" y="775.80" width="22.00" height="22.00" fill="#ffe7d0" stroke="#a05b2b" stroke-width="3.2" stroke-linejoin="round" />
<text x="2106.6" y="781.2" font-size="14.52" fill="#000" text-anchor="start" textLength="119.3" lengthAdjust="spacingAndGlyphs">syslog:tcp:10514</text>
<text x="2090.2" y="825.1" font-size="14.52" fill="#000" text-anchor="middle" textLength="123.5" lengthAdjust="spacingAndGlyphs">logstash-[0-9]{2}</text>
<text x="1985.3" y="847.1" font-size="17.42" fill="#83521f" text-anchor="start" textLength="70.1" lengthAdjust="spacingAndGlyphs">logstash</text>
<rect x="2312.00" y="753.70" width="288.00" height="155.30" fill="#ffd8d8" stroke="#cc0000" stroke-width="3.0" stroke-linejoin="round" />
<text x="2317.3" y="903.2" font-size="26.12" fill="#a30000" text-anchor="start" textLength="83.8" lengthAdjust="spacingAndGlyphs">kibana</text>
<rect x="2356.60" y="809.00" width="222.30" height="65.90" fill="#fff0dd" stroke="#f3e3d5" stroke-width="3.2" stroke-linejoin="round" />
<rect x="2351.05" y="803.45" width="222.30" height="65.90" fill="#fff0dd" stroke="#e8c5a7" stroke-width="3.2" stroke-linejoin="round" />
<rect x="2345.50" y="797.90" width="222.30" height="65.90" fill="#fff0dd" stroke="#dca67d" stroke-width="3.2" stroke-linejoin="round" />
<rect x="2339.95" y="792.35" width="222.30" height="65.90" fill="#fff0dd" stroke="#c97b3d" stroke-width="3.2" stroke-linejoin="round" />
<rect x="2334.40" y="786.80" width="222.30" height="65.90" fill="#ffe7d0" stroke="#a05b2b" stroke-width="3.2" stroke-linejoin="round" />
<rect x="2434.55" y="775.80" width="22.00" height="22.00" fill="#ffe7d0" stroke="#a05b2b" stroke-width="3.2" stroke-linejoin="round" />
<text x="2461.8" y="781.2" font-size="14.52" fill="#000" text-anchor="start" textLength="68.5" lengthAdjust="spacingAndGlyphs">http:5601</text>
<text x="2445.6" y="825.1" font-size="14.52" fill="#000" text-anchor="middle" textLength="111.6" lengthAdjust="spacingAndGlyphs">kibana-[0-9]{2}</text>
<text x="2340.5" y="847.1" font-size="17.42" fill="#83521f" text-anchor="start" textLength="55.9" lengthAdjust="spacingAndGlyphs">kibana</text>
<rect x="2023.50" y="954.30" width="510.00" height="154.00" fill="#ffd8d8" stroke="#cc0000" stroke-width="3.0" stroke-linejoin="round" />
<text x="2028.6" y="1102.5" font-size="26.12" fill="#a30000" text-anchor="start" textLength="211.3" lengthAdjust="spacingAndGlyphs">elasticsearch-log</text>
<rect x="2068.60" y="1010.20" width="221.00" height="66.40" fill="#fff0dd" stroke="#f3e3d5" stroke-width="3.2" stroke-linejoin="round" />
<rect x="2063.05" y="1004.65" width="221.00" height="66.40" fill="#fff0dd" stroke="#e8c5a7" stroke-width="3.2" stroke-linejoin="round" />
<rect x="2057.50" y="999.10" width="221.00" height="66.40" fill="#fff0dd" stroke="#dca67d" stroke-width="3.2" stroke-linejoin="round" />
<rect x="2051.95" y="993.55" width="221.00" height="66.40" fill="#fff0dd" stroke="#c97b3d" stroke-width="3.2" stroke-linejoin="round" />
<rect x="2289.60" y="1010.20" width="221.40" height="66.40" fill="#fff0dd" stroke="#f3e3d5" stroke-width="3.2" stroke-linejoin="round" />
<rect x="2284.05" y="1004.65" width="221.40" height="66.40" fill="#fff0dd" stroke="#e8c5a7" stroke-width="3.2" stroke-linejoin="round" />
<rect x="2278.50" y="999.10" width="221.40" height="66.40" fill="#fff0dd" stroke="#dca67d" stroke-width="3.2" stroke-linejoin="round" />
<rect x="2272.95" y="993.55" width="221.40" height="66.40" fill="#fff0dd" stroke="#c97b3d" stroke-width="3.2" stroke-linejoin="round" />
<rect x="2046.40" y="988.00" width="221.00" height="66.40" fill="#ffe7d0" stroke="#a05b2b" stroke-width="3.2" stroke-linejoin="round" />
<rect x="2267.40" y="988.00" width="221.40" height="66.40" fill="#ffe7d0" stroke="#a05b2b" stroke-width="3.2" stroke-linejoin="round" />
<rect x="2145.50" y="977.00" width="22.00" height="22.00" fill="#ffe7d0" stroke="#a05b2b" stroke-width="3.2" stroke-linejoin="round" />
<text x="2172.8" y="982.4" font-size="14.52" fill="#000" text-anchor="start" textLength="68.5" lengthAdjust="spacingAndGlyphs">http:9201</text>
<text x="2267.4" y="1026.3" font-size="14.52" fill="#000" text-anchor="middle" textLength="182.5" lengthAdjust="spacingAndGlyphs">elasticsearch-log-[0-9]{2}</text>
<text x="2052.6" y="1048.8" font-size="17.42" fill="#83521f" text-anchor="start" textLength="194.4" lengthAdjust="spacingAndGlyphs">vitam-elasticsearch-log</text>
<text x="2273.4" y="1048.8" font-size="17.42" fill="#83521f" text-anchor="start" textLength="60.4" lengthAdjust="spacingAndGlyphs">curator</text>
<rect x="1956.50" y="1198.40" width="288.00" height="154.80" fill="#ffd8d8" stroke="#cc0000" stroke-width="3.0" stroke-linejoin="round" />
<text x="1961.6" y="1347.4" font-size="26.12" fill="#a30000" text-anchor="start" textLength="80.7" lengthAdjust="spacingAndGlyphs">consul</text>
<rect x="2001.20" y="1264.00" width="220.60" height="66.40" fill="#fff0dd" stroke="#f3e3d5" stroke-width="3.2" stroke-linejoin="round" />
<rect x="1995.65" y="1258.45" width="220.60" height="66.40" fill="#fff0dd" stroke="#e8c5a7" stroke-width="3.2" stroke-linejoin="round" />
<rect x="1990.10" y="1252.90" width="220.60" height="66.40" fill="#fff0dd" stroke="#dca67d" stroke-width="3.2" stroke-linejoin="round" />
<rect x="1984.55" y="1247.35" width="220.60" height="66.40" fill="#fff0dd" stroke="#c97b3d" stroke-width="3.2" stroke-linejoin="round" />
<rect x="1979.00" y="1241.80" width="220.60" height="66.40" fill="#ffe7d0" stroke="#a05b2b" stroke-width="3.2" stroke-linejoin="round" />
<rect x="1978.80" y="1230.80" width="22.00" height="22.00" fill="#ffe7d0" stroke="#a05b2b" stroke-width="3.2" stroke-linejoin="round" />
<text x="2002.6" y="1219.6" font-size="14.52" fill="#000" text-anchor="start" textLength="26.6" lengthAdjust="spacingAndGlyphs">tcp:</text>
<text x="2002.7" y="1237.3" font-size="14.52" fill="#000" text-anchor="start" textLength="35.3" lengthAdjust="spacingAndGlyphs">8300</text>
<rect x="2045.10" y="1230.80" width="22.00" height="22.00" fill="#ffe7d0" stroke="#a05b2b" stroke-width="3.2" stroke-linejoin="round" />
<text x="2068.9" y="1219.6" font-size="14.52" fill="#000" text-anchor="start" textLength="26.6" lengthAdjust="spacingAndGlyphs">tcp:</text>
<text x="2069.0" y="1237.3" font-size="14.52" fill="#000" text-anchor="start" textLength="35.3" lengthAdjust="spacingAndGlyphs">8301</text>
<rect x="2111.60" y="1230.80" width="22.00" height="22.00" fill="#ffe7d0" stroke="#a05b2b" stroke-width="3.2" stroke-linejoin="round" />
<text x="2135.4" y="1219.6" font-size="14.52" fill="#000" text-anchor="start" textLength="29.5" lengthAdjust="spacingAndGlyphs">dns:</text>
<text x="2135.7" y="1237.3" font-size="14.52" fill="#000" text-anchor="start" textLength="17.7" lengthAdjust="spacingAndGlyphs">53</text>
<rect x="2178.20" y="1230.80" width="22.00" height="22.00" fill="#ffe7d0" stroke="#a05b2b" stroke-width="3.2" stroke-linejoin="round" />
<text x="2202.1" y="1219.6" font-size="14.52" fill="#000" text-anchor="start" textLength="33.2" lengthAdjust="spacingAndGlyphs">http:</text>
<text x="2202.1" y="1237.3" font-size="14.52" fill="#000" text-anchor="start" textLength="35.3" lengthAdjust="spacingAndGlyphs">8500</text>
<text x="2089.3" y="1280.1" font-size="14.52" fill="#000" text-anchor="middle" textLength="135.5" lengthAdjust="spacingAndGlyphs">consul-[0-9]{2}.log</text>
<text x="1985.2" y="1302.6" font-size="17.42" fill="#83521f" text-anchor="start" textLength="107.3" lengthAdjust="spacingAndGlyphs">vitam-consul</text>
<rect x="2334.30" y="1264.40" width="221.70" height="66.40" fill="#e5e5e5" stroke="#a05b2b" stroke-width="3.2" stroke-linejoin="round" />
<rect x="2434.20" y="1253.40" width="22.00" height="22.00" fill="#e5e5e5" stroke="#a05b2b" stroke-width="3.2" stroke-linejoin="round" />
<text x="2461.4" y="1258.8" font-size="14.52" fill="#000" text-anchor="start" textLength="47.2" lengthAdjust="spacingAndGlyphs">dns:53</text>
<text x="2445.2" y="1302.7" font-size="14.52" fill="#000" text-anchor="middle" textLength="71.9" lengthAdjust="spacingAndGlyphs">[dns infra]</text>
<text x="2340.3" y="1325.2" font-size="17.42" fill="#83521f" text-anchor="start" textLength="37.5" lengthAdjust="spacingAndGlyphs">[s/o]</text>
<rect x="1956.80" y="1464.70" width="221.10" height="66.00" fill="#e5e5e5" stroke="#a05b2b" stroke-width="3.2" stroke-linejoin="round" />
<rect x="2056.30" y="1453.70" width="22.00" height="22.00" fill="#e5e5e5" stroke="#a05b2b" stroke-width="3.2" stroke-linejoin="round" />
<text x="2083.6" y="1459.1" font-size="14.52" fill="#000" text-anchor="start" textLength="68.9" lengthAdjust="spacingAndGlyphs">http/https</text>
<text x="2067.3" y="1503.0" font-size="14.52" fill="#000" text-anchor="middle" textLength="114.3" lengthAdjust="spacingAndGlyphs">[dépôt rpm/deb]</text>
<text x="1962.8" y="1525.1" font-size="17.42" fill="#83521f" text-anchor="start" textLength="37.5" lengthAdjust="spacingAndGlyphs">[s/o]</text>
<rect x="2334.30" y="1464.70" width="221.70" height="66.00" fill="#e5e5e5" stroke="#a05b2b" stroke-width="3.2" stroke-linejoin="round" />
<text x="2445.2" y="1503.0" font-size="14.52" fill="#000" text-anchor="middle" textLength="177.1" lengthAdjust="spacingAndGlyphs">[serveur de déploiement]</text>
<text x="2340.4" y="1525.1" font-size="17.42" fill="#83521f" text-anchor="start" textLength="59.6" lengthAdjust="spacingAndGlyphs">ansible</text>
<rect x="468.80" y="2486.70" width="221.10" height="66.20" fill="#e5e5e5" stroke="#a05b2b" stroke-width="3.2" stroke-linejoin="round" />
<rect x="568.70" y="2475.70" width="22.00" height="22.00" fill="#e5e5e5" stroke="#a05b2b" stroke-width="3.2" stroke-linejoin="round" />
<text x="596.0" y="2481.1" font-size="14.52" fill="#000" text-anchor="start" textLength="68.9" lengthAdjust="spacingAndGlyphs">http/https</text>
<text x="579.4" y="2525.0" font-size="14.52" fill="#000" text-anchor="middle" textLength="127.0" lengthAdjust="spacingAndGlyphs">[swift storage API]</text>
<text x="474.8" y="2547.3" font-size="17.42" fill="#83521f" text-anchor="start" textLength="177.4" lengthAdjust="spacingAndGlyphs">[swift object storage]</text>
<g transform="translate(0,931.5) skewX(-0.88) translate(0,-931.5)">
<rect x="68.3" y="931.5" width="286.6" height="155.1" fill="#ffd8d8" stroke="#cc0000" stroke-width="2.6" stroke-linejoin="round"/>
<rect x="103.5" y="966.0" width="215.6" height="66.4" fill="#fdfce9" stroke="#4d4a00" stroke-width="2.6" stroke-linejoin="round"/>
<rect x="198.2" y="951.7" width="27.4" height="25.3" fill="#fdfce9" stroke="#4d4a00" stroke-width="2.6" stroke-linejoin="round"/>
<text x="231.3" y="960.8" font-size="17.3" fill="#0d1b3e">http</text>
<text x="133.5" y="998.6" font-size="14.7" fill="#000">vitam-scheduler-[0-1]</text>
<text x="112.2" y="1028.3" font-size="20.0" fill="#66661c">vitam-scheduler</text>
<line x1="195" y1="1022.5" x2="224" y2="1022.5" stroke="#999966" stroke-width="0.8" stroke-dasharray="2,2"/>
<text x="79.9" y="1079.0" font-size="27.7" fill="#a30000">scheduler</text>
</g>
<path d="M887.0,77.3 C887.0,60.7 894.0,44.7 905.0,36.7 L943.0,36.7 C954.0,44.7 961.0,60.7 961.0,77.3 Q924.0,88.7 887.0,77.3 Z" fill="#000"/>
<circle cx="924.0" cy="20.7" r="25.0" fill="#fff"/>
<circle cx="924.0" cy="20.7" r="20.4" fill="#000"/>
<path d="M951.3,77.3 C951.3,60.7 958.3,44.7 969.3,36.7 L1007.3,36.7 C1018.3,44.7 1025.3,60.7 1025.3,77.3 Q988.3,88.7 951.3,77.3 Z" fill="#000"/>
<circle cx="988.3" cy="20.7" r="25.0" fill="#fff"/>
<circle cx="988.3" cy="20.7" r="20.4" fill="#000"/>
<path d="M919.0,105.0 C919.0,88.4 926.0,72.4 937.0,64.4 L975.0,64.4 C986.0,72.4 993.0,88.4 993.0,105.0 Q956.0,116.4 919.0,105.0 Z" fill="#000" stroke="#fff" stroke-width="9" stroke-linejoin="round"/>
<path d="M919.0,105.0 C919.0,88.4 926.0,72.4 937.0,64.4 L975.0,64.4 C986.0,72.4 993.0,88.4 993.0,105.0 Q956.0,116.4 919.0,105.0 Z" fill="#000"/>
<circle cx="956.0" cy="48.4" r="25.0" fill="#fff"/>
<circle cx="956.0" cy="48.4" r="20.4" fill="#000"/>
<path d="M871.1,44.1 L923.3,44.1 L923.3,113.3 L871.1,113.3 Q867.1,113.3 867.1,109.3 L867.1,48.1 Q867.1,44.1 871.1,44.1 Z" fill="#000"/>
<rect x="875.5" y="57.1" width="43.9" height="52.1" fill="#b3b3b3"/>
<rect x="871.4" y="48.3" width="43.5" height="4.6" rx="2.3" fill="#e6e6e6"/>
<rect x="880.1" y="70.2" width="34.8" height="4.3" fill="#000"/>
<rect x="880.1" y="79.1" width="34.8" height="4.1" fill="#000"/>
<rect x="880.1" y="87.8" width="26.0" height="4.0" fill="#000"/>
<path d="M2196.9,77.0 C2196.9,60.4 2203.9,44.4 2214.9,36.4 L2252.9,36.4 C2263.9,44.4 2270.9,60.4 2270.9,77.0 Q2233.9,88.4 2196.9,77.0 Z" fill="#000"/>
<circle cx="2233.9" cy="20.4" r="25.0" fill="#fff"/>
<circle cx="2233.9" cy="20.4" r="20.4" fill="#000"/>
<path d="M2261.2,77.0 C2261.2,60.4 2268.2,44.4 2279.2,36.4 L2317.2,36.4 C2328.2,44.4 2335.2,60.4 2335.2,77.0 Q2298.2,88.4 2261.2,77.0 Z" fill="#000"/>
<circle cx="2298.2" cy="20.4" r="25.0" fill="#fff"/>
<circle cx="2298.2" cy="20.4" r="20.4" fill="#000"/>
<path d="M2228.9,104.7 C2228.9,88.1 2235.9,72.1 2246.9,64.1 L2284.9,64.1 C2295.9,72.1 2302.9,88.1 2302.9,104.7 Q2265.9,116.1 2228.9,104.7 Z" fill="#000" stroke="#fff" stroke-width="9" stroke-linejoin="round"/>
<path d="M2228.9,104.7 C2228.9,88.1 2235.9,72.1 2246.9,64.1 L2284.9,64.1 C2295.9,72.1 2302.9,88.1 2302.9,104.7 Q2265.9,116.1 2228.9,104.7 Z" fill="#000"/>
<circle cx="2265.9" cy="48.1" r="25.0" fill="#fff"/>
<circle cx="2265.9" cy="48.1" r="20.4" fill="#000"/>
<path d="M2201.2,51.3 L2203.9,43.4 L2210.7,43.4 L2213.4,51.3 L2221.6,54.7 L2229.1,51.0 L2233.9,55.8 L2230.2,63.3 L2233.6,71.5 L2241.5,74.2 L2241.5,81.0 L2233.6,83.7 L2230.2,91.9 L2233.9,99.4 L2229.1,104.2 L2221.6,100.5 L2213.4,103.9 L2210.7,111.8 L2203.9,111.8 L2201.2,103.9 L2193.0,100.5 L2185.5,104.2 L2180.7,99.4 L2184.4,91.9 L2181.0,83.7 L2173.1,81.0 L2173.1,74.2 L2181.0,71.5 L2184.4,63.3 L2180.7,55.8 L2185.5,51.0 L2193.0,54.7 Z" fill="#b3b3b3" stroke="#000" stroke-width="5" stroke-linejoin="round"/>
<circle cx="2207.3" cy="77.6" r="12.9" fill="#000"/>
<path d="M2199.5,78.5 L2214.2,81.3 Q2212,86.5 2206,86 Q2200.5,85 2199.5,78.5 Z" fill="#fff"/>
<path d="M2089.8,666.0 L2089.8,675.2 L1822.6,675.2 L1822.6,1631.1 L1334.3,1631.1 L1334.3,1680.0" fill="none" stroke="#7f70b2" stroke-width="4.1" stroke-linejoin="round" stroke-linecap="butt"/>
<path d="M1334.3,1692.6 L1328.3,1677.6 L1334.3,1680.6 L1340.2,1677.6 Z" fill="#7f70b2" stroke="#7f70b2" stroke-width="1" stroke-linejoin="miter"/>
<path d="M2444.8,910.0 L2444.8,930.3 L2156.4,930.3 L2156.4,965.0" fill="none" stroke="#7f70b2" stroke-width="4.1" stroke-linejoin="round" stroke-linecap="butt"/>
<path d="M2156.4,977.7 L2150.5,962.7 L2156.4,965.7 L2162.3,962.7 Z" fill="#7f70b2" stroke="#7f70b2" stroke-width="1" stroke-linejoin="miter"/>
<path d="M2289.7,107.0 L2289.7,308.7 L2089.5,308.7 L2089.5,524.0" fill="none" stroke="#000" stroke-width="4.1" stroke-linejoin="round" stroke-linecap="round"/>
<path d="M2089.5,536.8 L2083.6,521.8 L2089.5,524.8 L2095.4,521.8 Z" fill="#000" stroke="#000" stroke-width="1" stroke-linejoin="miter"/>
<path d="M2311.8,86.6 L2311.8,308.7 L2445.0,308.7 L2445.0,762.0" fill="none" stroke="#000" stroke-width="4.1" stroke-linejoin="round" stroke-linecap="round"/>
<path d="M2445.0,774.8 L2439.1,759.8 L2445.0,762.8 L2450.9,759.8 Z" fill="#000" stroke="#000" stroke-width="1" stroke-linejoin="miter"/>
<path d="M2333.9,86.6 L2333.9,286.0 L2633.6,286.0 L2633.6,1163.7 L2189.2,1163.7 L2189.2,1224.0" fill="none" stroke="#000" stroke-width="4.1" stroke-linejoin="round" stroke-linecap="round"/>
<path d="M2189.2,1237.0 L2183.2,1222.0 L2189.2,1225.0 L2195.1,1222.0 Z" fill="#000" stroke="#000" stroke-width="1" stroke-linejoin="miter"/>
<path d="M202.0,1842.6 L202.0,1857.6" fill="none" stroke="#000" stroke-width="4.1" stroke-linejoin="round" stroke-linecap="round"/>
<path d="M202.0,1871.4 L196.1,1856.4 L202.0,1859.4 L207.9,1856.4 Z" fill="#000" stroke="#000" stroke-width="1" stroke-linejoin="miter"/>
<path d="M757.6,1842.6 L757.6,1857.6" fill="none" stroke="#000" stroke-width="4.1" stroke-linejoin="round" stroke-linecap="round"/>
<path d="M757.6,1871.4 L751.6,1856.4 L757.6,1859.4 L763.6,1856.4 Z" fill="#000" stroke="#000" stroke-width="1" stroke-linejoin="miter"/>
<path d="M202.0,2020.2 L202.0,2035.2" fill="none" stroke="#000" stroke-width="4.1" stroke-linejoin="round" stroke-linecap="round"/>
<path d="M202.0,2049.0 L196.1,2034.0 L202.0,2037.0 L207.9,2034.0 Z" fill="#000" stroke="#000" stroke-width="1" stroke-linejoin="miter"/>
<path d="M757.6,2020.2 L757.6,2035.2" fill="none" stroke="#000" stroke-width="4.1" stroke-linejoin="round" stroke-linecap="round"/>
<path d="M757.6,2049.0 L751.6,2034.0 L757.6,2037.0 L763.6,2034.0 Z" fill="#000" stroke="#000" stroke-width="1" stroke-linejoin="miter"/>
<path d="M202.0,2198.0 L202.0,2213.0" fill="none" stroke="#000" stroke-width="4.1" stroke-linejoin="round" stroke-linecap="round"/>
<path d="M202.0,2226.8 L196.1,2211.8 L202.0,2214.8 L207.9,2211.8 Z" fill="#000" stroke="#000" stroke-width="1" stroke-linejoin="miter"/>
<path d="M757.6,2198.0 L757.6,2213.0" fill="none" stroke="#000" stroke-width="4.1" stroke-linejoin="round" stroke-linecap="round"/>
<path d="M757.6,2226.8 L751.6,2211.8 L757.6,2214.8 L763.6,2211.8 Z" fill="#000" stroke="#000" stroke-width="1" stroke-linejoin="miter"/>
</svg>
</body></html>
